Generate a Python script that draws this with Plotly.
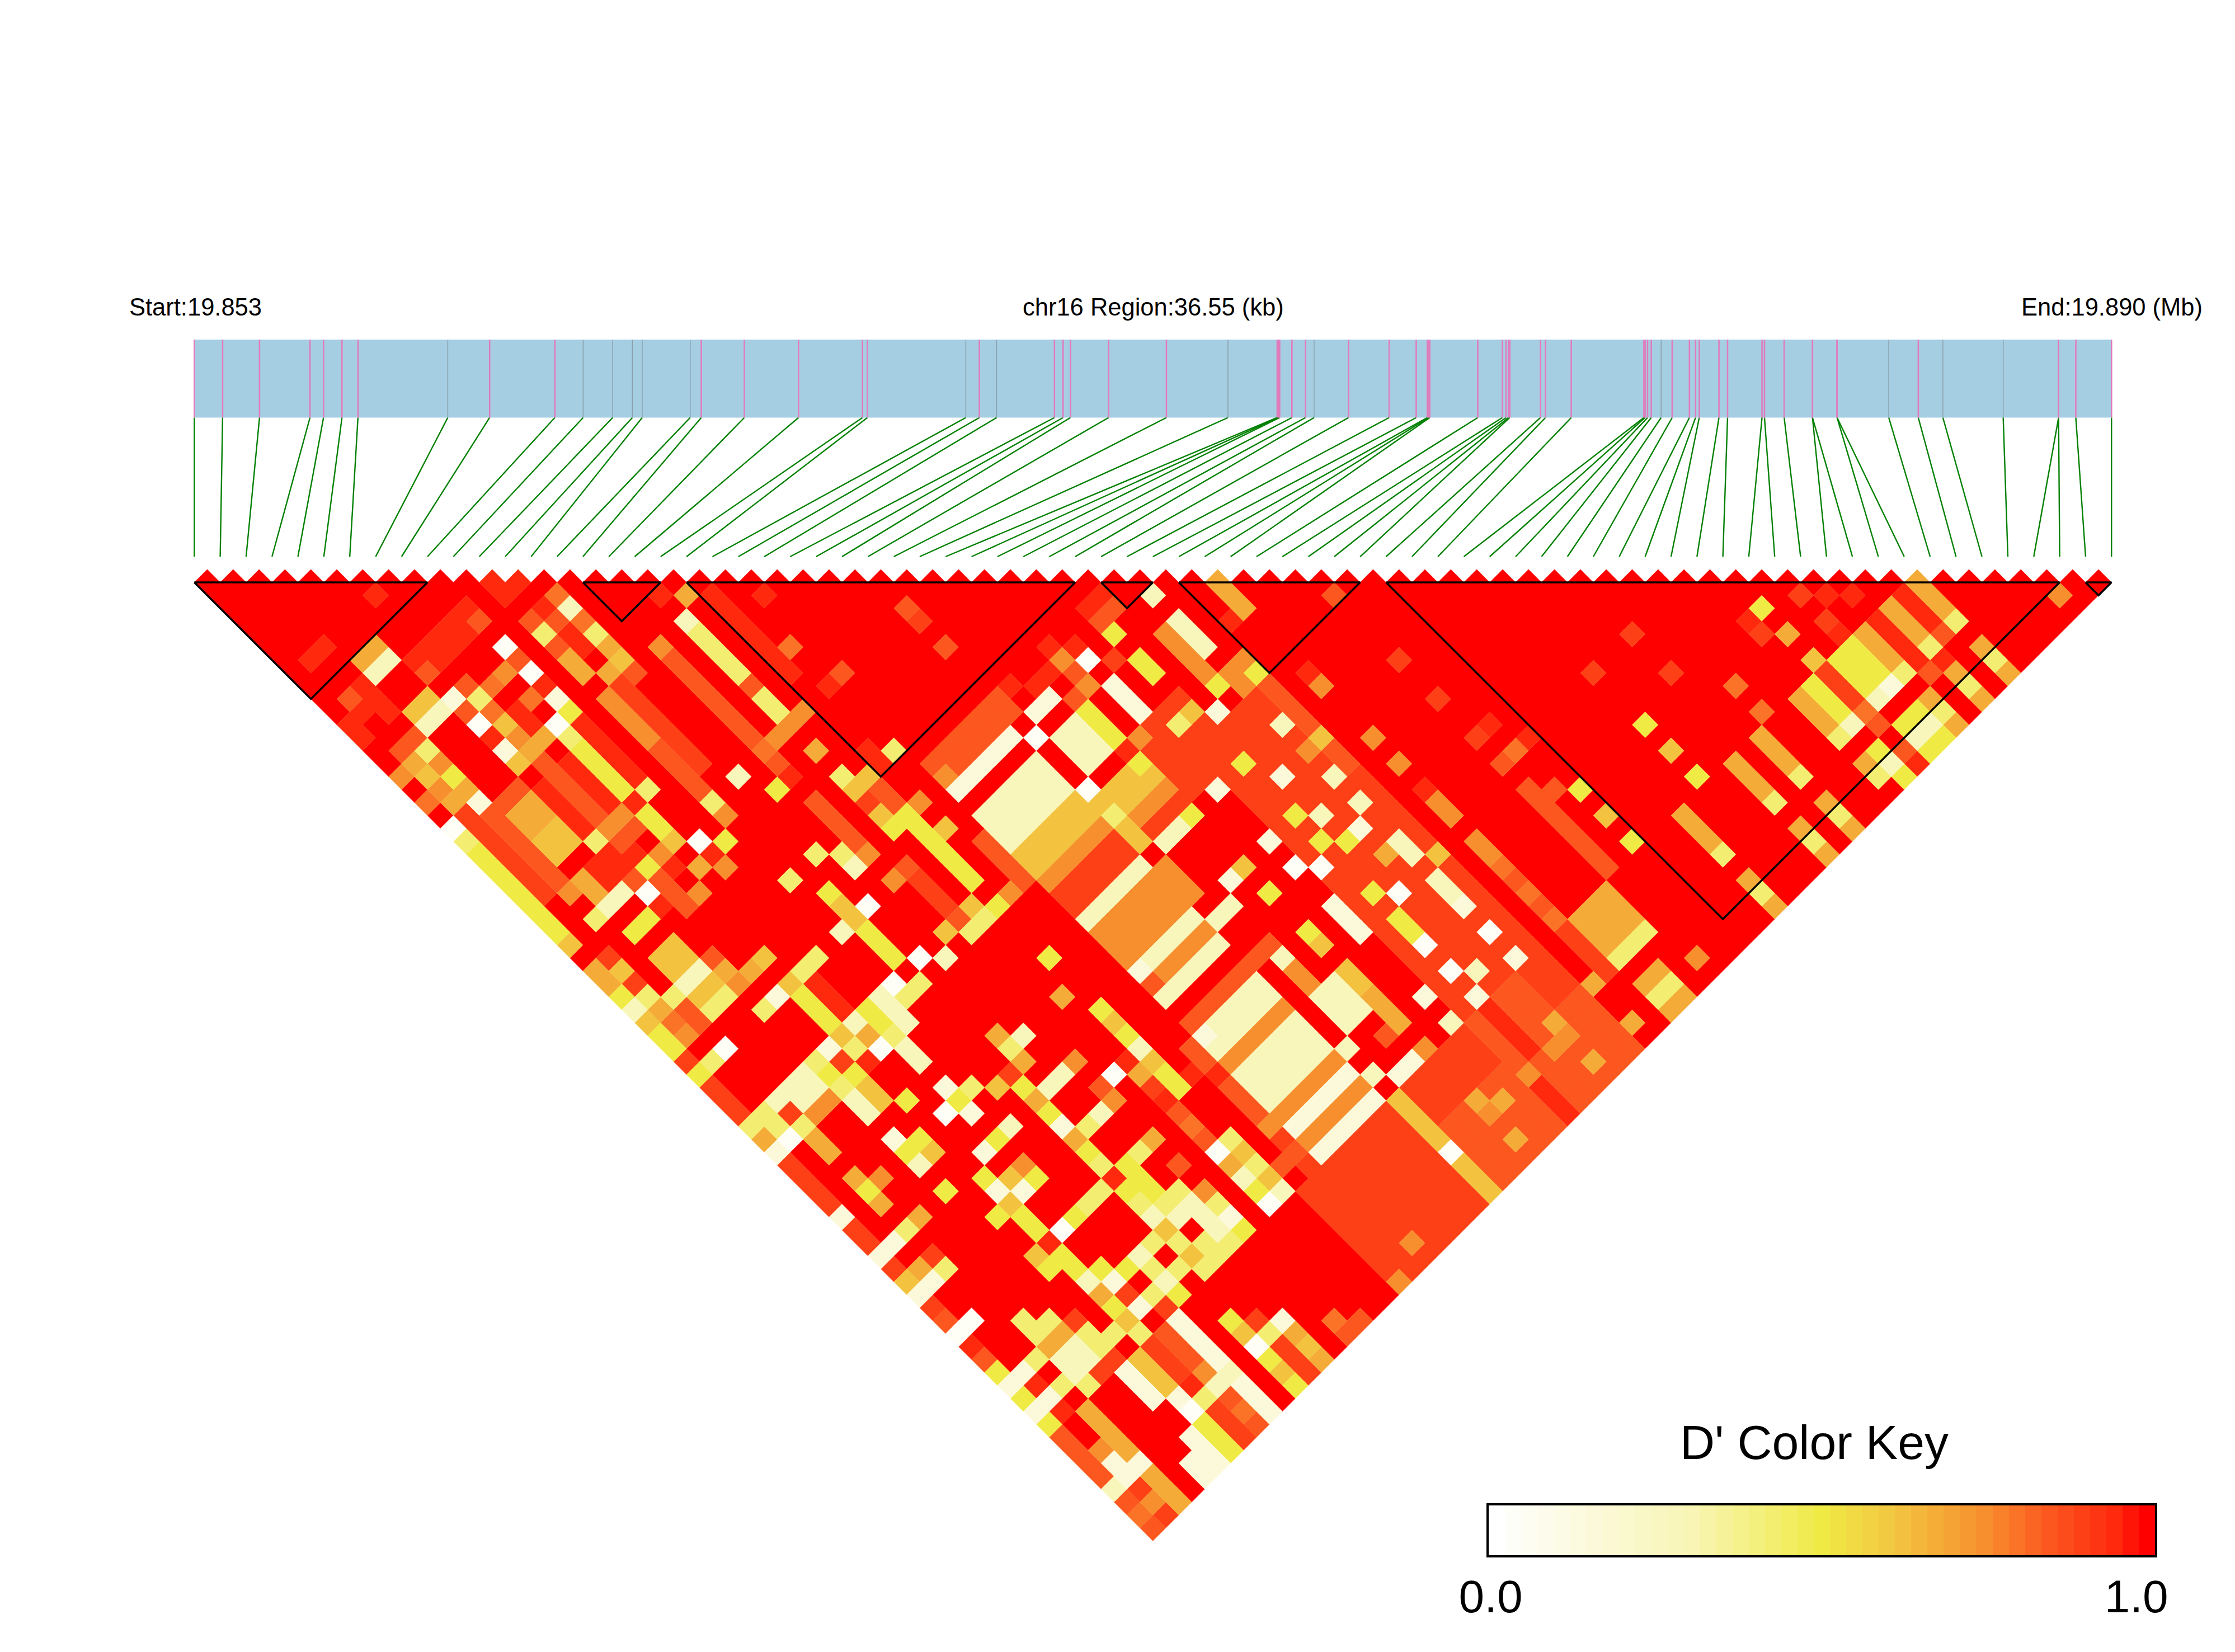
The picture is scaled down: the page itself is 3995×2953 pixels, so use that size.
import plotly.graph_objects as go

N_SNP = 75
REGION_KB = 36.55
# SNP positions read from the gene track, in kb from the region start
TRACK_READ = [3,26,56,97,108,123,136,209,243,296,319,343,359,367,406,415,450,494,546,550,630,641,655,702,709,
              715,746,793,843,883,884,885,895,906,913,941,974,996,1005,1006,1007,1046,1066,1069,1071,1072,1097,1101,1122,
              1181,1182,1184,1187,1195,1204,1218,1223,1226,1242,1249,1277,1279,1295,1318,1318,1338,1338,1380,1404,1424,1473,1518,1518,1532,1561]
SNP_KB = [(p - 3) * REGION_KB / 1558 for p in TRACK_READ]
GREY_READ = {209,319,343,359,367,406,630,655,843,913,1195,1380,1424,1473}
BLOCKS = [(0,9),(15,18),(19,34),(35,37),(38,45),(46,72),(73,74)]

LEVEL = {'R':1.0,'r':.95,'o':.90,'O':.85,'f':.80,'F':.75,'G':.68,'A':.62,'Y':.5,'y':.42,'l':.28,'p':.14,'w':.03}

# rectangles of the D' matrix: first SNP range, second SNP range, level
RECTS = [
 (32,38,46,66,'o'),(38,38,46,66,'R'),(37,37,46,52,'O'),(30,33,43,47,'o'),
 (11,12,12,13,'r'),(11,11,13,13,'r'),
 (21,25,40,42,'l'),(21,22,40,42,'l'),(21,25,38,38,'p'),(26,26,40,42,'R'),(21,25,39,39,'R'),(27,28,40,42,'l'),(27,28,38,38,'p'),
 (29,29,40,42,'Y'),
 (8,8,21,25,'Y'),(8,8,27,28,'Y'),(9,9,21,25,'r'),(10,10,11,30,'R'),(11,11,21,24,'F'),(11,11,25,28,'O'),
 (12,12,15,18,'r'),(12,12,21,27,'o'),(15,15,21,25,'O'),(15,15,26,30,'O'),(17,17,21,21,'l'),(17,17,22,25,'y'),(19,19,21,27,'r'),
 (3,4,10,10,'G'),(3,4,11,11,'l'),(5,9,12,12,'r'),(6,8,13,13,'r'),
 (3,4,22,23,'G'),(3,4,24,25,'A'),(3,4,21,21,'O'),(5,5,22,25,'r'),(6,6,22,26,'O'),(7,7,22,25,'r'),
 (2,2,21,27,'O'),(1,1,20,26,'o'),(0,0,22,28,'Y'),
 (60,61,67,69,'Y'),(59,59,67,69,'o'),(58,58,67,69,'Y'),(57,57,67,69,'G'),(54,54,67,69,'G'),(52,52,67,69,'G'),(48,48,67,69,'G'),
 (66,66,67,69,'G'),(65,65,67,69,'r'),(64,64,67,69,'G'),(62,62,67,69,'G'),(63,63,67,70,'r'),
 (43,43,60,66,'O'),(19,25,66,74,'o'),(26,38,67,74,'o'),(27,37,70,74,'O'),(26,26,67,70,'A'),(26,26,72,74,'A'),
 (20,25,67,70,'o'),(38,38,67,69,'R'),(38,38,71,72,'R'),(38,38,74,74,'R'),
 (40,42,67,69,'G'),(40,42,70,70,'y'),(39,39,67,70,'o'),(40,41,72,72,'G'),(40,41,73,73,'y'),(40,41,74,74,'G'),
 (21,25,60,62,'l'),(21,25,59,59,'F'),(21,25,57,58,'l'),(21,27,56,56,'O'),(21,27,55,55,'R'),(21,25,54,54,'l'),
 (1,6,40,42,'R'),(3,7,35,39,'R'),(2,4,43,43,'l'),(3,4,44,44,'l'),(2,2,46,47,'G'),
 (1,2,60,62,'R'),(3,4,67,69,'R'),(3,4,71,72,'R'),(2,2,67,70,'G'),(5,5,67,69,'p'),(6,6,67,69,'A'),(7,7,67,69,'o'),(8,8,67,69,'O'),
 (9,9,66,69,'p'),(10,10,66,74,'R'),(14,14,71,74,'R'),
 (21,25,46,47,'o'),(21,25,45,45,'F'),(21,25,44,44,'A'),(21,25,43,43,'A'),(21,25,48,48,'l'),(21,26,49,51,'F'),(21,25,52,52,'l'),(21,25,53,53,'F'),(26,26,46,47,'A'),
 (36,36,40,42,'l'),(35,35,40,42,'F'),(33,33,40,41,'Y'),(31,31,40,42,'p'),
 (3,4,33,34,'A'),(21,25,63,63,'F'),(21,25,64,64,'p'),(21,25,65,65,'F'),(21,28,66,66,'p'),(27,28,60,62,'l'),(29,29,60,61,'A'),(29,29,62,64,'G'),
 (18,18,39,42,'Y'),(12,12,38,39,'A'),(12,12,40,42,'Y'),(7,7,40,42,'Y'),(8,8,40,42,'r'),(15,15,33,36,'O'),(20,20,60,62,'O'),(20,20,41,44,'O'),
 (34,35,67,69,'O'),(32,32,67,70,'O'),(33,33,67,70,'r'),(32,32,72,74,'r'),(16,16,40,42,'o'),
 (21,26,36,36,'O'),(22,26,37,37,'O'),(27,29,47,47,'o'),(27,29,46,46,'F'),(27,29,45,45,'A'),(39,39,40,42,'G'),
]
CELLS = [
 (6,8,'r'),(2,8,'r'),(1,8,'r'),
 (13,15,'f'),(13,16,'l'),(13,17,'f'),(13,18,'y'),(13,19,'G'),(13,20,'A'),(13,21,'O'),
 (9,13,'O'),(5,13,'O'),(1,11,'O'),(2,11,'r'),(1,12,'r'),(2,12,'r'),(2,13,'r'),(0,12,'r'),(0,13,'r'),
 (3,14,'A'),(4,14,'A'),(3,15,'l'),(4,15,'l'),(5,15,'p'),(6,15,'O'),(6,16,'y'),(7,16,'f'),(8,16,'F'),(9,16,'O'),(9,15,'w'),(9,17,'w'),
 (8,18,'f'),(9,18,'r'),(9,19,'p'),(7,18,'r'),(6,17,'f'),(5,16,'O'),(5,17,'w'),(6,18,'A'),(7,19,'r'),(8,20,'w'),(9,20,'Y'),
 (5,18,'r'),(6,19,'F'),(7,20,'G'),(5,19,'p'),(6,20,'G'),(5,20,'A'),(6,21,'O'),(8,21,'y'),(9,26,'y'),
 (11,15,'O'),(11,16,'y'),(11,17,'O'),(11,18,'G'),(11,19,'G'),(11,29,'y'),(11,30,'F'),
 (12,16,'O'),(12,20,'G'),(15,21,'F'),(18,20,'G'),(17,19,'r'),
 (26,29,'O'),(26,30,'o'),(26,32,'O'),(21,23,'r'),(20,26,'f'),(21,29,'O'),(20,29,'r'),
 (17,27,'y'),(17,28,'y'),(17,26,'O'),(17,29,'F'),(18,29,'F'),(17,31,'G'),(20,34,'y'),(19,33,'r'),(19,34,'r'),
 (17,33,'y'),(17,34,'A'),(18,34,'A'),(18,36,'O'),(14,31,'Y'),(13,29,'l'),
 (26,39,'w'),(26,43,'w'),(29,39,'O'),
 (59,62,'Y'),(59,64,'G'),(58,62,'r'),(58,63,'o'),(61,63,'o'),(62,64,'r'),(63,65,'r'),(61,65,'o'),(61,66,'r'),(59,66,'A'),
 (66,67,'G'),(66,70,'y'),(65,70,'O'),(64,70,'y'),(64,71,'r'),(63,71,'O'),(62,70,'y'),(61,70,'p'),(60,70,'l'),(59,70,'f'),(59,71,'O'),
 (58,70,'l'),(58,72,'Y'),(57,70,'y'),(57,72,'G'),(57,73,'y'),(55,66,'f'),(55,64,'f'),(54,70,'y'),(52,70,'y'),
 (54,72,'G'),(54,73,'y'),(54,74,'G'),(52,72,'G'),(52,73,'y'),(52,74,'G'),
 (50,66,'Y'),(50,64,'A'),(50,62,'Y'),(48,70,'y'),(48,72,'G'),(48,73,'y'),(48,74,'G'),(45,66,'Y'),(45,64,'A'),(45,62,'Y'),
 (53,58,'o'),(50,58,'o'),(53,61,'o'),(71,73,'F'),
 (66,72,'G'),(66,73,'y'),(66,74,'G'),(64,72,'G'),(64,73,'y'),(64,74,'G'),(62,72,'G'),(62,73,'y'),(62,74,'G'),
 (61,73,'l'),(60,73,'l'),(60,72,'Y'),(60,74,'Y'),(61,74,'Y'),(58,73,'l'),(58,74,'Y'),(59,73,'O'),(59,74,'r'),(61,72,'Y'),
 (43,45,'O'),(43,50,'o'),(43,53,'o'),(43,56,'o'),(44,56,'r'),
 (39,48,'F'),(39,47,'r'),(39,52,'F'),(39,54,'F'),(39,56,'r'),(39,57,'F'),(39,58,'F'),(39,60,'F'),(39,61,'F'),(39,62,'f'),(39,63,'O'),(39,64,'f'),(39,65,'O'),(39,66,'f'),
 (43,58,'O'),(44,58,'f'),(45,58,'r'),(44,61,'O'),
 (38,70,'G'),(43,73,'F'),(35,70,'G'),(38,73,'G'),(35,71,'F'),(34,71,'F'),(35,73,'G'),(32,71,'F'),(29,70,'G'),(30,71,'G'),(29,71,'F'),(29,73,'G'),
 (26,71,'w'),(21,73,'F'),(19,74,'F'),
 (33,62,'w'),(33,64,'w'),(34,65,'l'),(33,66,'p'),(31,64,'p'),(31,66,'l'),(29,64,'G'),(28,66,'p'),(27,66,'p'),(36,66,'p'),(29,66,'F'),(30,66,'R'),(30,64,'R'),
 (26,57,'R'),(26,59,'R'),(26,62,'R'),(26,63,'l'),(26,64,'R'),(26,65,'l'),(26,66,'R'),
 (18,48,'Y'),(16,55,'w'),(17,50,'G'),(18,52,'Y'),(18,53,'A'),(18,54,'Y'),(18,55,'l'),(18,56,'A'),(18,57,'Y'),(18,58,'Y'),
 (13,49,'G'),(13,50,'y'),(14,50,'l'),(13,51,'G'),(14,53,'l'),(13,53,'l'),(12,52,'Y'),(12,53,'G'),(12,54,'Y'),(12,55,'p'),(12,56,'G'),(12,57,'Y'),(12,58,'y'),
 (12,59,'r'),(12,60,'Y'),(12,61,'y'),(12,62,'l'),(12,63,'A'),(12,64,'y'),(12,65,'A'),(12,66,'y'),
 (14,56,'l'),(13,56,'y'),(15,59,'G'),(14,59,'y'),(13,59,'Y'),(15,61,'O'),(14,62,'y'),(14,63,'l'),(15,63,'F'),
 (17,62,'w'),(18,62,'y'),(18,63,'A'),(18,64,'y'),(18,65,'A'),(17,66,'w'),(18,66,'l'),(10,63,'l'),
 (0,74,'O'),(0,73,'f'),(1,74,'o'),(0,72,'O'),(1,73,'F'),(2,74,'G'),(0,71,'l'),(1,72,'o'),(2,73,'G'),(3,74,'R'),(1,71,'p'),(2,72,'G'),(3,73,'R'),(4,74,'p'),
 (0,69,'O'),(1,70,'p'),(2,71,'p'),(4,73,'p'),(5,74,'p'),(0,68,'O'),(1,69,'F'),(5,73,'p'),(6,74,'Y'),(5,72,'p'),(6,70,'p'),(6,71,'w'),(6,72,'Y'),(6,73,'Y'),
 (7,70,'r'),(7,71,'y'),(7,72,'o'),(7,73,'o'),(7,74,'o'),(8,70,'F'),(8,71,'l'),(8,72,'O'),(8,73,'f'),(8,74,'O'),
 (9,70,'p'),(9,71,'l'),(9,72,'p'),(9,73,'p'),(9,74,'p'),
 (11,69,'Y'),(11,70,'A'),(11,71,'w'),(11,72,'Y'),(11,73,'A'),(11,74,'Y'),(12,70,'o'),(12,71,'y'),(12,72,'o'),(12,73,'o'),(12,74,'o'),
 (13,71,'p'),(13,72,'G'),(13,73,'A'),(13,74,'G'),(15,73,'f'),(15,74,'O'),(16,74,'O'),
 (0,58,'O'),(0,60,'r'),(0,61,'O'),(0,62,'Y'),(0,63,'p'),(0,64,'Y'),(0,65,'p'),(0,66,'Y'),(0,67,'O'),(0,70,'O'),(0,59,'w'),(1,59,'w'),
 (3,61,'y'),(3,62,'y'),(4,62,'y'),(4,63,'G'),(3,63,'G'),(2,63,'y'),(1,63,'p'),(2,64,'R'),(1,64,'r'),(3,64,'l'),(4,64,'l'),(4,65,'l'),(3,65,'l'),(2,65,'y'),(1,65,'p'),
 (2,66,'R'),(1,66,'r'),(3,66,'y'),(4,66,'o'),(5,63,'o'),(5,64,'y'),(5,65,'y'),(5,66,'o'),(6,65,'y'),(6,66,'R'),(7,65,'A'),(7,66,'y'),
 (1,19,'G'),(2,18,'Y'),(1,17,'A'),(1,18,'F'),(0,16,'F'),(1,16,'G'),(2,16,'y'),(1,15,'O'),(2,15,'O'),(2,17,'F'),(2,19,'G'),(2,20,'p'),(0,18,'f'),(0,20,'w'),(0,21,'y'),
 (3,26,'R'),(4,26,'R'),(5,26,'y'),(6,26,'F'),(7,26,'F'),(8,26,'r'),(3,27,'G'),(4,27,'r'),(5,27,'r'),(6,27,'O'),(7,27,'O'),
 (3,28,'G'),(4,28,'r'),(5,28,'r'),(6,28,'r'),(3,29,'l'),(4,29,'l'),(5,29,'O'),(6,29,'Y'),(7,29,'F'),(8,29,'A'),(2,29,'y'),(2,27,'F'),
 (3,30,'R'),(4,30,'R'),(5,30,'w'),(6,30,'O'),(7,30,'r'),(9,30,'w'),(3,31,'Y'),(4,31,'Y'),(5,31,'r'),(6,31,'O'),(8,31,'G'),(9,31,'r'),(10,31,'Y'),
 (6,32,'O'),(7,32,'F'),(9,32,'F'),
 (0,29,'A'),(0,31,'G'),(0,32,'G'),(0,33,'Y'),(0,34,'l'),(0,35,'A'),(0,36,'Y'),(0,37,'Y'),(0,38,'o'),(0,39,'Y'),(0,40,'o'),(0,41,'o'),(0,42,'o'),(0,43,'y'),(0,44,'G'),(0,45,'p'),
 (0,46,'o'),(0,47,'o'),(0,48,'o'),(0,49,'o'),(0,50,'p'),(0,51,'o'),(0,52,'o'),(0,53,'p'),(0,54,'o'),(0,55,'A'),(0,56,'p'),(0,57,'o'),
 (1,31,'o'),(1,32,'A'),(1,33,'o'),(1,34,'y'),(1,35,'G'),(1,36,'f'),(1,37,'F'),(1,38,'R'),(1,39,'y'),(2,39,'w'),(5,39,'y'),(6,39,'p'),(1,43,'y'),(2,44,'o'),(1,44,'y'),(3,45,'F'),(2,45,'y'),(1,45,'w'),
 (31,38,'w'),(33,38,'Y'),(36,38,'l'),(30,39,'F'),(34,45,'p'),(32,44,'y'),(33,44,'A'),(33,48,'Y'),(31,48,'p'),(31,52,'p'),(34,50,'p'),
 (27,48,'l'),(28,48,'l'),(29,48,'Y'),(26,44,'A'),(26,45,'y'),(26,48,'R'),(71,72,'R'),
 # second reading pass
 (15,29,'f'),(15,27,'O'),(15,28,'O'),(15,31,'r'),(16,29,'F'),(15,37,'F'),(14,37,'l'),(14,36,'y'),(13,35,'y'),(11,35,'y'),
 (13,39,'w'),(11,39,'l'),(12,37,'Y'),(17,36,'A'),(17,37,'Y'),(18,37,'Y'),(18,38,'Y'),(19,37,'F'),(17,35,'o'),(18,35,'O'),(19,39,'A'),
 (16,39,'O'),(15,39,'F'),(18,44,'Y'),(17,44,'y'),(16,44,'y'),(15,43,'A'),(17,43,'A'),(16,43,'O'),(19,44,'F'),
 (21,52,'p'),(21,53,'O'),(21,57,'p'),(20,57,'O'),(20,58,'O'),(19,58,'r'),(20,59,'r'),
 (17,59,'O'),(17,58,'r'),(17,60,'f'),(17,61,'O'),(17,63,'G'),(17,64,'l'),(17,65,'Y'),(15,55,'O'),(15,56,'F'),(17,55,'r'),(17,56,'G'),(17,57,'o'),(15,53,'F'),
 (11,51,'A'),(12,51,'o'),(10,53,'l'),(9,53,'Y'),(9,55,'F'),(8,53,'p'),(9,56,'Y'),(8,55,'A'),(7,54,'Y'),(7,55,'p'),(8,56,'p'),(7,56,'A'),(6,56,'Y'),(7,57,'Y'),(7,58,'Y'),
 (8,59,'w'),(9,59,'Y'),(10,59,'y'),(11,59,'y'),(7,59,'r'),(7,60,'Y'),(6,59,'A'),(6,60,'Y'),(7,61,'Y'),(7,62,'l'),(7,63,'G'),(8,63,'p'),(8,62,'Y'),(9,63,'Y'),
 (8,64,'o'),(8,65,'p'),(7,64,'Y'),(11,63,'y'),(11,64,'R'),(11,65,'y'),(10,65,'l'),(10,64,'y'),(9,65,'y'),(9,66,'o'),(11,66,'R'),(10,66,'Y'),
 (13,62,'y'),(13,61,'Y'),(13,60,'Y'),(13,63,'l'),(13,64,'R'),(13,65,'y'),(13,66,'y'),(14,64,'l'),(14,65,'l'),(14,66,'y'),(15,64,'y'),(15,65,'p'),(15,66,'Y'),
 (29,60,'A'),(27,58,'F'),(27,59,'F'),(27,57,'l'),(28,64,'O'),
 (19,64,'R'),(19,65,'O'),(19,66,'R'),(20,65,'O'),(20,64,'o'),(20,63,'F'),
 (3,35,'l'),(4,35,'l'),(5,35,'O'),(3,36,'A'),(4,36,'A'),(5,36,'G'),(3,37,'y'),(4,37,'y'),(5,37,'F'),(6,37,'G'),(7,37,'A'),(2,35,'y'),(2,36,'O'),(2,37,'O'),
 (9,39,'y'),(8,39,'y'),(7,39,'A'),(7,43,'A'),(8,43,'l'),(9,43,'Y'),(10,43,'l'),(11,43,'w'),(13,43,'w'),
 (8,44,'G'),(7,44,'y'),(9,44,'Y'),(10,44,'l'),(11,44,'y'),(12,44,'y'),(14,44,'l'),(9,45,'y'),(10,45,'l'),(8,45,'w'),(6,44,'o'),(7,45,'r'),(6,43,'p'),(5,43,'y'),(4,43,'l'),
 (6,45,'Y'),(5,45,'y'),(5,44,'Y'),(6,46,'A'),(6,47,'A'),(5,46,'l'),(5,47,'l'),(4,45,'F'),(7,48,'Y'),(9,46,'l'),(9,47,'l'),
 (9,49,'p'),(9,50,'Y'),(9,51,'p'),(8,50,'w'),(10,50,'y'),(5,49,'p'),(6,50,'Y'),(6,51,'A'),(5,50,'Y'),(5,51,'l'),
 (2,50,'Y'),(2,51,'G'),(2,49,'G'),(3,50,'F'),(2,53,'y'),(5,53,'Y'),(3,53,'G'),(1,53,'p'),(2,55,'o'),(2,56,'y'),(1,55,'G'),(1,56,'p'),
 (33,68,'r'),(33,69,'r'),
 # third reading pass
 (21,37,'F'),(27,36,'r'),(28,37,'r'),(29,37,'r'),(30,36,'r'),(31,37,'r'),(30,37,'F'),(30,38,'O'),(33,36,'r'),(34,36,'r'),(33,37,'O'),(34,37,'O'),(32,39,'o'),
 (30,43,'F'),(29,43,'r'),(29,44,'Y'),(28,44,'A'),(27,44,'A'),(38,42,'r'),
 (26,52,'R'),(26,53,'l'),(27,53,'l'),(29,52,'A'),(29,54,'Y'),(28,52,'p'),
 (35,44,'Y'),(35,43,'F'),(37,44,'F'),(37,45,'Y'),(36,44,'F'),(36,45,'F'),
 (36,48,'l'),(37,50,'A'),(36,50,'F'),(36,52,'l'),(36,54,'l'),(33,52,'Y'),(34,53,'l'),(33,54,'Y'),(34,55,'Y'),(35,55,'p'),(31,54,'w'),(32,55,'w'),
 (31,57,'p'),(31,58,'p'),(31,59,'p'),(29,57,'Y'),(29,58,'A'),(36,57,'l'),(36,58,'l'),(37,59,'A'),(36,60,'l'),(36,61,'l'),(36,62,'p'),
 (33,58,'Y'),(34,59,'w'),(33,60,'Y'),(33,61,'Y'),(35,57,'G'),(36,64,'w'),
]

# colour key: 41 bins from white through yellow and orange to red
KEY_ANCHORS = [(0,'#FFFFFF'),(.12,'#FCFAE0'),(.3,'#F8F5B5'),(.5,'#F0EA45'),(.62,'#F3C340'),(.75,'#F78F2E'),(.85,'#FC571F'),(.95,'#FF2A0E'),(1,'#FF0000')]

def hex2rgb(h):
    return tuple(int(h[k:k+2], 16) for k in (1, 3, 5))

def colour(z):
    for (a, ca), (b, cb) in zip(KEY_ANCHORS, KEY_ANCHORS[1:]):
        if z <= b:
            t = (z - a) / (b - a)
            ra, rb = hex2rgb(ca), hex2rgb(cb)
            return 'rgb(%d,%d,%d)' % tuple(round(p + (q - p) * t) for p, q in zip(ra, rb))
    return KEY_ANCHORS[-1][1]

D = {(i, j): 'R' for i in range(N_SNP) for j in range(i + 1, N_SNP)}
for a, b, c, e, L in RECTS:
    for i in range(a, b + 1):
        for j in range(c, e + 1):
            if (i, j) in D:
                D[(i, j)] = L
for i, j, L in CELLS:
    if (i, j) in D:
        D[(i, j)] = L

fig = go.Figure()
for L in LEVEL:
    xs, ys = [], []
    for (i, j), v in D.items():
        if v != L:
            continue
        cx, cy = (i + j) / 2, (j - i - 1) / 2
        xs += [cx - .5, cx, cx + .5, cx, cx - .5, None]
        ys += [cy, cy - .5, cy, cy + .5, cy, None]
    c = colour(LEVEL[L])
    fig.add_trace(go.Scatter(x=xs, y=ys, mode='lines', fill='toself', fillcolor=c,
                             line=dict(color=c, width=0.4), hoverinfo='skip', showlegend=False))

for a, b in BLOCKS:
    fig.add_trace(go.Scatter(x=[a, b, (a + b) / 2, a], y=[0, 0, (b - a) / 2, 0], mode='lines',
                             line=dict(color='black', width=3.5), hoverinfo='skip', showlegend=False))

TRACK_TOP, TRACK_BOTTOM, LINK_BOTTOM = -9.37, -6.36, -0.993
to_x = [kb * (N_SNP - 1) / REGION_KB for kb in SNP_KB]
fig.add_shape(type='rect', x0=0, x1=N_SNP - 1, y0=TRACK_TOP, y1=TRACK_BOTTOM, fillcolor='#A6CEE3', line_width=0, layer='below')
gx, gy = [], []
for k, x in enumerate(to_x):
    gx += [x, k, None]
    gy += [TRACK_BOTTOM, LINK_BOTTOM, None]
fig.add_trace(go.Scatter(x=gx, y=gy, mode='lines', line=dict(color='#008000', width=2.4), hoverinfo='skip', showlegend=False))
px_, py_, qx, qy = [], [], [], []
for r, x in zip(TRACK_READ, to_x):
    if r in GREY_READ:
        qx += [x, x, None]; qy += [TRACK_TOP, TRACK_BOTTOM, None]
    else:
        px_ += [x, x, None]; py_ += [TRACK_TOP, TRACK_BOTTOM, None]
fig.add_trace(go.Scatter(x=qx, y=qy, mode='lines', line=dict(color='#8AA0AA', width=1.5), hoverinfo='skip', showlegend=False))
fig.add_trace(go.Scatter(x=px_, y=py_, mode='lines', line=dict(color='#E07CBC', width=2.6), hoverinfo='skip', showlegend=False))

KEY_Z = [k / 40 for k in range(41)]
scale = []
for k, z in enumerate(KEY_Z):
    c = colour(z)
    scale += [[k / 41, c], [(k + 1) / 41, c]]
fig.add_trace(go.Heatmap(z=[KEY_Z], x=[(k + .5) / 41 for k in range(41)], y=[0], colorscale=scale, zmin=0, zmax=1,
                         showscale=False, xaxis='x2', yaxis='y2', hoverinfo='skip'))

W, H = 3995, 2953
UNIT = 46.31
fig.update_layout(
    width=W, height=H, margin=dict(l=0, r=0, t=0, b=0, autoexpand=False), paper_bgcolor='white', plot_bgcolor='white',
    font=dict(family='Liberation Sans, Arial', color='black'),
    xaxis=dict(domain=[0, 1], range=[-347.3 / UNIT, (W - 347.3) / UNIT], visible=False),
    yaxis=dict(domain=[0, 1], range=[(H - 1041) / UNIT, -1041 / UNIT], visible=False),
    xaxis2=dict(domain=[2661 / W, 3852 / W], range=[0, 1], anchor='y2', tickmode='array', tickvals=[0.003, 0.972],
                ticktext=['0.0', '1.0'], tickfont=dict(size=82), ticks='', showline=True, linecolor='black', linewidth=4,
                mirror=True, showgrid=False, zeroline=False),
    yaxis2=dict(domain=[1 - 2780 / H, 1 - 2691 / H], range=[-.5, .5], anchor='x2', showticklabels=False, ticks='',
                showline=True, linecolor='black', linewidth=4, mirror=True, showgrid=False, zeroline=False),
    annotations=[
        dict(text='Start:19.853', xref='paper', yref='paper', x=229 / W, y=1 - 549 / H, xanchor='left', yanchor='middle', showarrow=False, font=dict(size=43.5)),
        dict(text='chr16 Region:36.55 (kb)', xref='paper', yref='paper', x=2061 / W, y=1 - 549 / H, xanchor='center', yanchor='middle', showarrow=False, font=dict(size=43.5)),
        dict(text='End:19.890 (Mb)', xref='paper', yref='paper', x=3939 / W, y=1 - 549 / H, xanchor='right', yanchor='middle', showarrow=False, font=dict(size=43.5)),
        dict(text="D' Color Key", xref='paper', yref='paper', x=3243 / W, y=1 - 2578 / H, xanchor='center', yanchor='middle', showarrow=False, font=dict(size=86)),
    ],
)
fig.write_html('out.html', config={'displayModeBar': False}, post_script="document.body.style.margin='0';")
